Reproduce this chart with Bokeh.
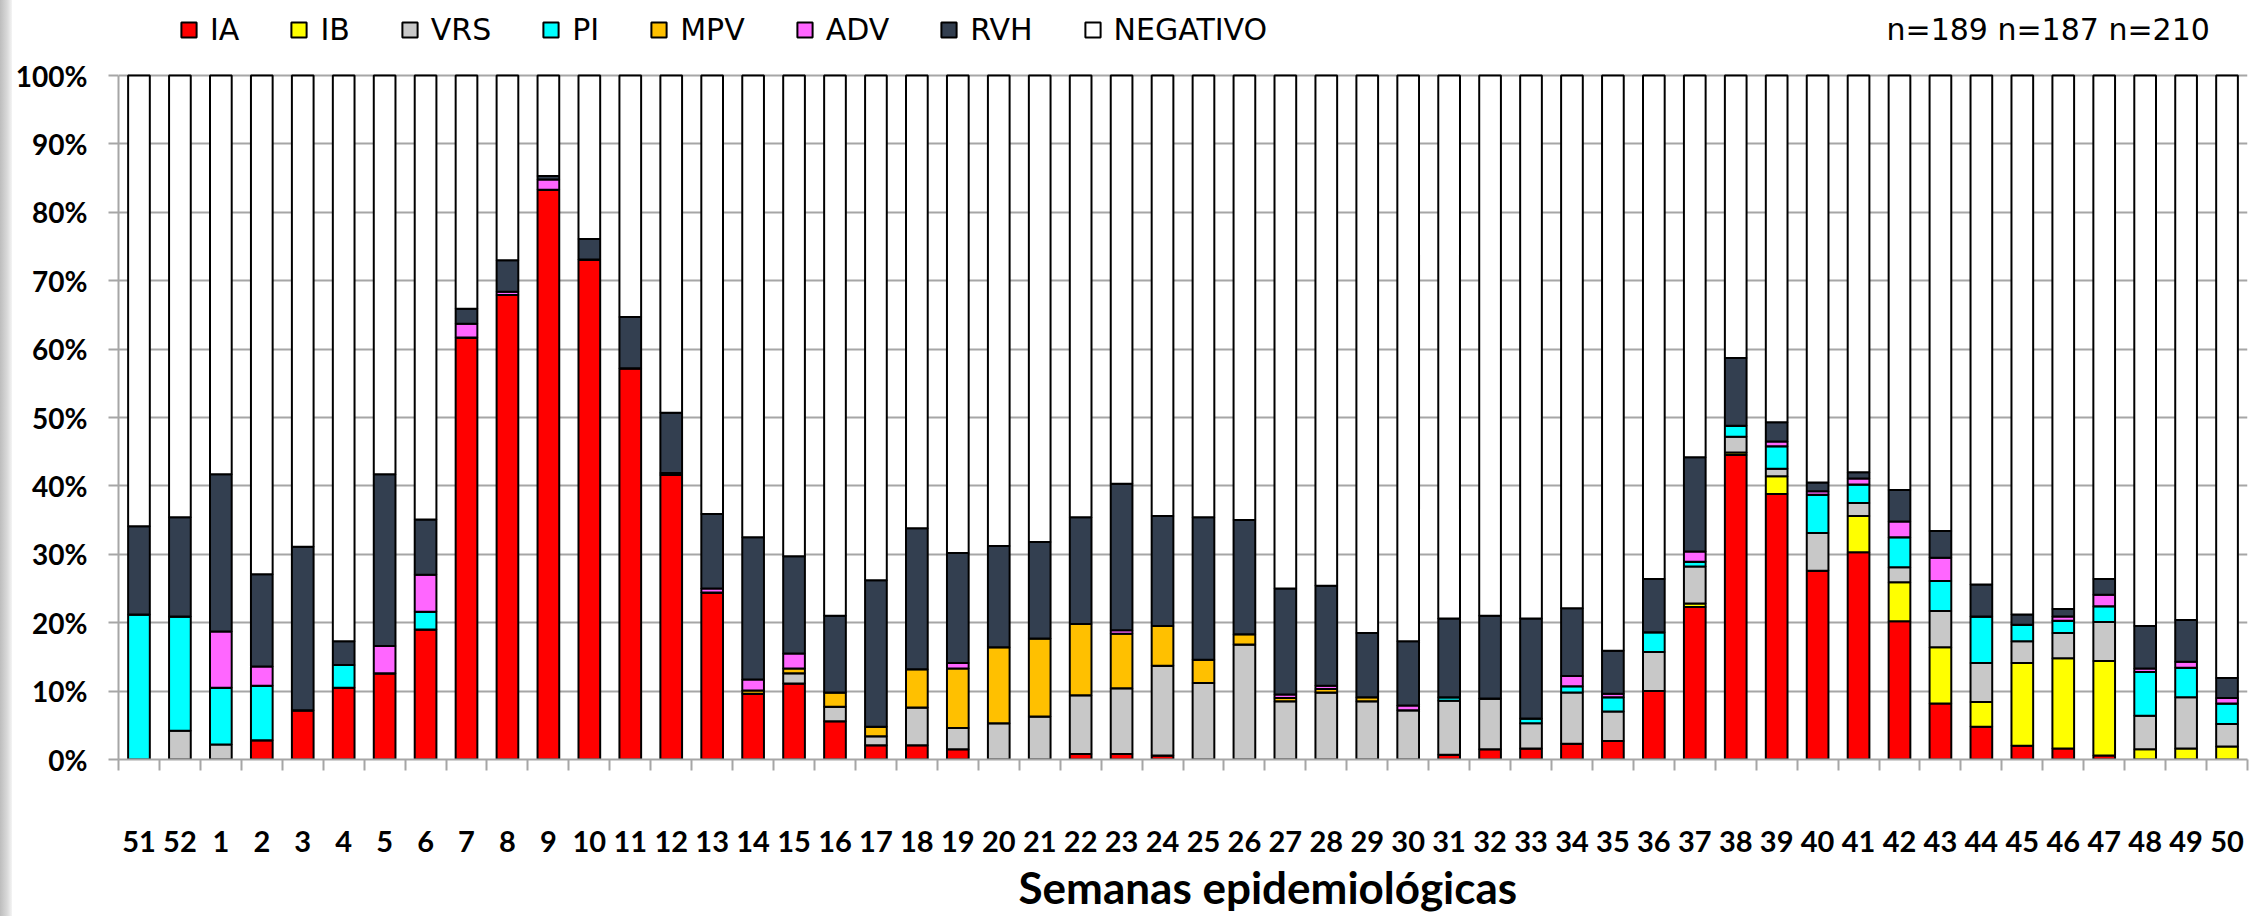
from bokeh.plotting import figure
from bokeh.layouts import row
from bokeh.models import (ColumnDataSource, Range1d, FixedTicker, PrintfTickFormatter,
                          Legend, LegendItem, Title, Label, Spacer)
from bokeh.embed import file_html
from bokeh.resources import INLINE

weeks = ["51", "52"] + [str(i) for i in range(1, 51)]

IA = [0, 0, 0, 2.8, 7.2, 10.5, 12.6, 19.0, 61.7, 67.9, 83.3, 73.1, 57.2, 41.6, 24.4, 9.6, 11.1, 5.6, 2.1, 2.1,
      1.5, 0, 0, 0.8, 0.8, 0.6, 0, 0, 0, 0, 0, 0, 0.7, 1.5, 1.6, 2.3, 2.7, 10.0, 22.3, 44.5,
      38.8, 27.6, 30.3, 20.2, 8.2, 4.8, 2.0, 1.6, 0.6, 0, 0, 0]
IB = [0, 0, 0, 0, 0, 0, 0, 0, 0, 0, 0, 0, 0, 0, 0, 0, 0, 0, 0, 0,
      0, 0, 0, 0, 0, 0, 0, 0, 0, 0, 0, 0, 0, 0, 0, 0, 0, 0, 0.5, 0.4,
      2.6, 0, 5.3, 5.7, 8.2, 3.6, 12.1, 13.2, 13.8, 1.5, 1.6, 1.9]
VRS = [0, 4.2, 2.2, 0, 0, 0, 0, 0, 0, 0, 0, 0, 0, 0, 0, 0, 1.5, 2.1, 1.3, 5.5,
       3.1, 5.3, 6.3, 8.6, 9.6, 13.1, 11.2, 16.8, 8.5, 9.8, 8.5, 7.2, 7.9, 7.4, 3.7, 7.5, 4.3, 5.7, 5.4, 2.3,
       1.1, 5.5, 1.9, 2.2, 5.3, 5.7, 3.2, 3.7, 5.7, 4.9, 7.5, 3.3]
PI = [21.2, 16.7, 8.3, 8.0, 0, 3.3, 0, 2.6, 0, 0, 0, 0, 0, 0.3, 0, 0, 0, 0, 0, 0,
      0, 0, 0, 0, 0, 0, 0, 0, 0, 0, 0, 0, 0.5, 0, 0.7, 0.9, 2.1, 2.9, 0.7, 1.6,
      3.3, 5.6, 2.7, 4.4, 4.4, 6.8, 2.4, 1.8, 2.3, 6.4, 4.3, 3.0]
MPV = [0, 0, 0, 0, 0, 0, 0, 0, 0, 0, 0, 0, 0, 0, 0, 0.5, 0.7, 2.1, 1.4, 5.6,
       8.7, 11.1, 11.4, 10.4, 8.0, 5.8, 3.4, 1.5, 0.5, 0.5, 0.6, 0, 0, 0, 0, 0, 0, 0, 0, 0,
       0, 0, 0, 0, 0, 0, 0, 0, 0, 0, 0, 0]
ADV = [0, 0, 8.2, 2.8, 0, 0, 4.0, 5.4, 2.0, 0.5, 1.5, 0, 0, 0, 0.6, 1.6, 2.2, 0, 0, 0,
       0.8, 0, 0, 0, 0.5, 0, 0, 0, 0.5, 0.5, 0, 0.7, 0, 0, 0, 1.5, 0.5, 0, 1.5, 0,
       0.7, 0.5, 0.9, 2.3, 3.4, 0, 0, 0.6, 1.7, 0.5, 0.9, 0.8]
RVH = [12.9, 14.5, 23.0, 13.5, 23.9, 3.5, 25.1, 8.1, 2.2, 4.6, 0.5, 3.0, 7.5, 8.8, 10.9, 20.8, 14.2, 11.2, 21.4, 20.6,
       16.1, 14.8, 14.1, 15.6, 21.4, 16.1, 20.8, 16.7, 15.5, 14.6, 9.4, 9.4, 11.5, 12.1, 14.6, 9.9, 6.3, 7.8, 13.8, 9.9,
       2.8, 1.3, 0.9, 4.6, 3.9, 4.7, 1.5, 1.1, 2.3, 6.2, 6.1, 2.9]
NEGATIVO = [65.9, 64.6, 58.3, 72.9, 68.9, 82.7, 58.3, 64.9, 34.1, 27.0, 14.7, 23.9, 35.3, 49.3, 64.1, 67.5, 70.3, 79.0, 73.8, 66.2,
            69.8, 68.8, 68.2, 64.6, 59.7, 64.4, 64.6, 65.0, 75.0, 74.6, 81.5, 82.7, 79.4, 79.0, 79.4, 77.9, 84.1, 73.6, 55.8, 41.3,
            50.7, 59.5, 58.0, 60.6, 66.6, 74.4, 78.8, 78.0, 73.6, 80.5, 79.6, 88.1]

series = ["IA", "IB", "VRS", "PI", "MPV", "ADV", "RVH", "NEGATIVO"]
colors = ["#FF0000", "#FFFF00", "#C8C8C8", "#00FFFF", "#FFC000", "#FF66FF", "#333F50", "#FFFFFF"]
n_text = "n=189 n=187 n=210"
x_title = "Semanas epidemiológicas"

centers = [i + 0.5 for i in range(len(weeks))]
source = ColumnDataSource(dict(x=centers, IA=IA, IB=IB, VRS=VRS, PI=PI, MPV=MPV,
                               ADV=ADV, RVH=RVH, NEGATIVO=NEGATIVO))

GRID = "#a6a6a6"
TICKFONT = "Lato"
LEGFONT = "DejaVu Sans"

STRIP = 12              # textured strip at the left edge of the picture
W, H = 2251 - STRIP, 916
FRAME_BOTTOM = 759      # pixel row of 0 %
TOP100 = 75             # pixel row of 100 %
LEFT = 115 - STRIP      # frame left edge inside the figure
# the frame reaches the top of the canvas so that the legend row lies inside it
y_max = 100.0 * FRAME_BOTTOM / (FRAME_BOTTOM - TOP100)

p = figure(width=W, height=H, output_backend="svg", toolbar_location=None,
           x_range=Range1d(0, len(weeks)), y_range=Range1d(0, y_max),
           min_border_left=LEFT, min_border_right=4, min_border_top=0,
           min_border_bottom=H - FRAME_BOTTOM)
p.outline_line_color = None
p.background_fill_color = "white"
p.xgrid.visible = False
p.ygrid.grid_line_color = GRID
p.ygrid.grid_line_width = 2
p.ygrid.ticker = FixedTicker(ticks=list(range(0, 101, 10)))

renderers = p.vbar_stack(series, x="x", width=0.53, source=source, fill_color=colors,
                         line_color="black", line_width=2)

# y axis
p.yaxis.bounds = (0, 100)
p.yaxis.ticker = FixedTicker(ticks=list(range(0, 101, 10)))
p.yaxis.formatter = PrintfTickFormatter(format="%d%%")
p.yaxis.axis_line_color = GRID
p.yaxis.axis_line_width = 2
p.yaxis.major_tick_out = 10
p.yaxis.major_tick_in = 0
p.yaxis.major_tick_line_color = GRID
p.yaxis.major_tick_line_width = 2
p.yaxis.minor_tick_line_color = None
p.yaxis.major_label_standoff = 21
p.yaxis.major_label_text_font = TICKFONT
p.yaxis.major_label_text_font_style = "bold"
p.yaxis.major_label_text_font_size = "28px"
p.yaxis.major_label_text_color = "black"

# x axis
p.xaxis.ticker = FixedTicker(ticks=centers, minor_ticks=list(range(0, len(weeks) + 1)))
p.xaxis.major_label_overrides = {c: w for c, w in zip(centers, weeks)}
p.xaxis.axis_line_color = GRID
p.xaxis.axis_line_width = 2
p.xaxis.major_tick_out = 0
p.xaxis.major_tick_in = 0
p.xaxis.major_tick_line_color = None
p.xaxis.minor_tick_out = 11
p.xaxis.minor_tick_in = 0
p.xaxis.minor_tick_line_color = GRID
p.xaxis.minor_tick_line_width = 2
p.xaxis.major_label_standoff = 60
p.xaxis.major_label_text_font = TICKFONT
p.xaxis.major_label_text_font_style = "bold"
p.xaxis.major_label_text_font_size = "29px"
p.xaxis.major_label_text_color = "black"

# x-axis title
p.add_layout(Title(text=x_title, align="left", offset=900, standoff=8, vertical_align="bottom",
                   text_font=TICKFONT, text_font_style="bold", text_font_size="44px",
                   text_color="black"), "below")

# series legend in the top strip of the frame
items = [LegendItem(label=s, renderers=[r]) for s, r in zip(series, renderers)]
legend = Legend(items=items, orientation="horizontal", location=(61, FRAME_BOTTOM - 12 - 35),
                glyph_width=19, glyph_height=19, label_standoff=12, spacing=50,
                padding=0, margin=0, border_line_color=None, background_fill_alpha=0,
                label_text_font=LEGFONT, label_text_font_size="30px",
                label_text_color="black")
p.add_layout(legend, "center")

# sample sizes, top right
p.add_layout(Label(x=1768, y=FRAME_BOTTOM - 29, x_units="screen", y_units="screen", text=n_text,
                   text_font=LEGFONT, text_font_size="30px", text_color="black",
                   text_align="left", text_baseline="middle"))

strip = Spacer(width=STRIP, height=H,
               styles={"background": "linear-gradient(to right, #bdbdbd, #d9d9d9 60%, #f4f4f4)"})
layout = row(strip, p, spacing=0)

open("out.html", "w").write(file_html(layout, INLINE))
